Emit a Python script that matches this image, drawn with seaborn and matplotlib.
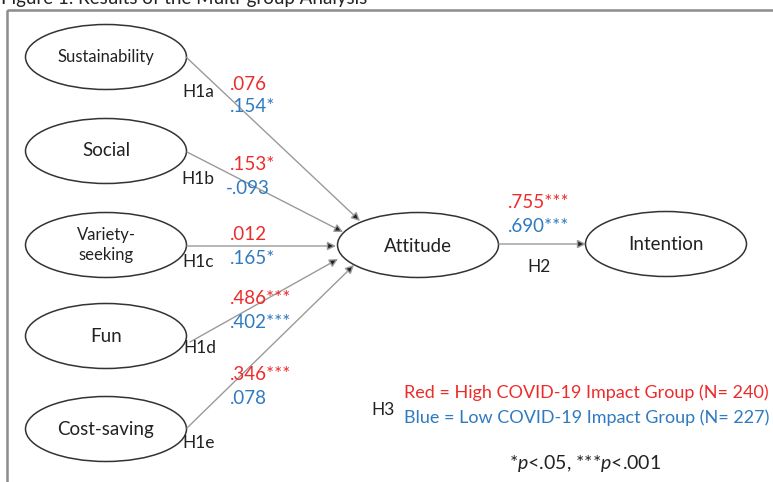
import seaborn as sns
import matplotlib.pyplot as plt
from matplotlib.patches import Ellipse, Rectangle, FancyArrowPatch

# constructs in the model
predictors = ["Sustainability", "Social", "Variety-\nseeking", "Fun", "Cost-saving"]
hypotheses = ["H1a", "H1b", "H1c", "H1d", "H1e"]
high_group = [".076", ".153*", ".012", ".486***", ".346***"]
low_group = [".154*", "-.093", ".165*", ".402***", ".078"]
h2_high = ".755***"
h2_low = ".690***"
legend_high = "Red = High COVID-19 Impact Group (N= 240)"
legend_low = "Blue = Low COVID-19 Impact Group (N= 227)"
title = "Figure 1. Results of the Multi-group Analysis"

RED = "#ee2b2b"
BLUE = "#2f7ac0"
LINE = "#9a9a9a"

sns.set_theme(style="white")
plt.rcParams["font.family"] = ["Lato", "DejaVu Sans"]
plt.rcParams["mathtext.fontset"] = "custom"
plt.rcParams["mathtext.it"] = "Lato:italic"
plt.rcParams["mathtext.rm"] = "Lato"

fig = plt.figure(figsize=(7.73, 4.82), dpi=100)
ax = fig.add_axes([0, 0, 1, 1])
ax.set_xlim(0, 773)
ax.set_ylim(482, 0)
ax.axis("off")

# frame and title (cut at the top edge, as in the source)
ax.add_patch(Rectangle((7, 10), 800, 500, fill=False, edgecolor="#8c8c8c", lw=1.8))
ax.text(1, 4, title, fontsize=13.5, color="#222222", va="baseline", ha="left")

# layout of the diagram (pixel coordinates)
pred_y = [57, 151, 245, 336, 429]
pred_x = 106
ell_w, ell_h = 161, 65
starts = [(186, 57), (187, 152), (187, 246), (190, 342), (187, 428)]
ends = [(360, 221), (343, 232), (336, 246), (338, 259), (354, 265)]
hyp_pos = [(198, 92), (198, 179), (198, 262), (200, 348), (199, 443)]
red_pos = [(230, 84), (230, 165), (230, 235), (230, 298), (230, 375)]
blue_pos = [(230, 107), (226, 188), (230, 259), (230, 322), (230, 398)]


def arrow(p0, p1):
    ax.add_patch(FancyArrowPatch(p0, p1, arrowstyle="-|>,head_length=5,head_width=2.5",
                                 mutation_scale=1, lw=1.0, edgecolor=LINE,
                                 facecolor="#222222", shrinkA=0, shrinkB=0))


for name, y in zip(predictors, pred_y):
    ax.add_patch(Ellipse((pred_x, y), ell_w, ell_h, fill=False, edgecolor="#333333", lw=1.1))
    fs = 12 if ("\n" in name or name == "Sustainability") else 13.5
    ax.text(pred_x, y, name, ha="center", va="center", fontsize=fs, color="#222222",
            linespacing=1.3)

for s, e in zip(starts, ends):
    arrow(s, e)

for h, (x, y) in zip(hypotheses, hyp_pos):
    ax.text(x, y, h, ha="center", va="center", fontsize=12.5, color="#222222")
for v, (x, y) in zip(high_group, red_pos):
    ax.text(x, y, v, ha="left", va="center", fontsize=13.5, color=RED)
for v, (x, y) in zip(low_group, blue_pos):
    ax.text(x, y, v, ha="left", va="center", fontsize=13.5, color=BLUE)

# attitude -> intention
ax.add_patch(Ellipse((418, 245), ell_w, ell_h, fill=False, edgecolor="#333333", lw=1.1))
ax.text(418, 246, "Attitude", ha="center", va="center", fontsize=13.5, color="#222222")
ax.add_patch(Ellipse((666, 244), ell_w, ell_h, fill=False, edgecolor="#333333", lw=1.1))
ax.text(666, 244, "Intention", ha="center", va="center", fontsize=13.5, color="#222222")
arrow((499, 244), (586, 244))
ax.text(508, 203, h2_high, ha="left", va="center", fontsize=13.5, color=RED)
ax.text(508, 227, h2_low, ha="left", va="center", fontsize=13.5, color=BLUE)
ax.text(539, 267, "H2", ha="center", va="center", fontsize=12.5, color="#222222")

# group legend
ax.text(383, 410, "H3", ha="center", va="center", fontsize=12.5, color="#222222")
ax.text(404, 393, legend_high, ha="left", va="center", fontsize=13, color=RED)
ax.text(404, 418, legend_low, ha="left", va="center", fontsize=13, color=BLUE)
ax.text(585, 464, "*$\\it{p}$<.05, ***$\\it{p}$<.001", ha="center", va="center",
        fontsize=14, color="#222222")

fig.savefig("out.png", dpi=100, facecolor="white")
